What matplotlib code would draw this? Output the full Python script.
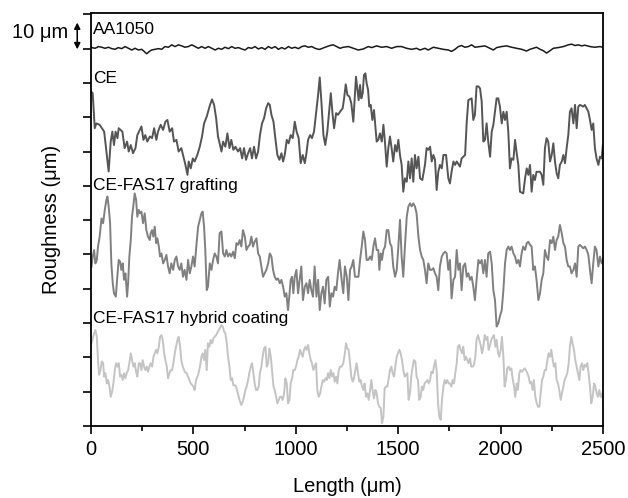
import numpy as np
import matplotlib
matplotlib.use("Agg")
import matplotlib.pyplot as plt

# profile traces (length in um, plotted height in um incl. vertical offset)
aa1050 = [(3, 110.3), (20, 110.1), (36, 110.6), (52, 110.4), (68, 110.1), (85, 110.4),
          (101, 110.0), (117, 109.8), (133, 110.3), (150, 110.0), (166, 110.6), (182, 110.1),
          (199, 109.6), (215, 110.1), (231, 109.6), (247, 109.8), (259, 109.2), (272, 108.5),
          (285, 109.2), (296, 109.6), (313, 109.8), (329, 110.0), (345, 109.8), (361, 110.6),
          (378, 110.4), (394, 111.1), (410, 110.6), (427, 111.1), (443, 110.8), (459, 110.4),
          (475, 110.6), (492, 111.1), (508, 110.6), (524, 110.1), (540, 110.6), (557, 110.1),
          (573, 110.6), (589, 110.1), (606, 109.6), (622, 110.1), (638, 109.8), (654, 110.4),
          (671, 110.0), (687, 110.6), (703, 110.1), (720, 110.3), (736, 109.9), (752, 109.6),
          (768, 110.3), (785, 110.1), (801, 110.6), (817, 109.9), (833, 110.3), (850, 109.8),
          (866, 110.6), (882, 110.1), (899, 110.6), (915, 109.8), (931, 110.3), (947, 109.9),
          (964, 110.6), (980, 110.1), (996, 110.4), (1013, 110.0), (1029, 110.6), (1045, 110.8),
          (1061, 110.4), (1078, 110.6), (1094, 110.1), (1110, 109.8), (1118, 109.8), (1143, 110.4),
          (1167, 110.9), (1183, 111.1), (1200, 110.6), (1216, 110.1), (1232, 110.4), (1257, 110.6),
          (1281, 110.1), (1305, 109.6), (1330, 109.9), (1354, 110.6), (1371, 110.3), (1395, 110.8),
          (1419, 110.4), (1444, 110.6), (1468, 110.1), (1493, 110.6), (1517, 110.6), (1541, 110.1),
          (1566, 109.8), (1590, 110.1), (1607, 109.6), (1631, 110.1), (1647, 109.6), (1672, 110.4),
          (1696, 110.1), (1720, 109.8), (1745, 109.6), (1761, 109.2), (1778, 109.8), (1794, 110.6),
          (1810, 110.9), (1826, 110.4), (1843, 110.6), (1859, 111.1), (1875, 110.4), (1900, 110.6),
          (1924, 110.8), (1948, 110.1), (1965, 109.6), (1981, 110.3), (2005, 110.6), (2030, 110.8),
          (2054, 110.4), (2079, 110.1), (2103, 109.8), (2127, 109.3), (2144, 109.8), (2160, 110.1),
          (2176, 110.4), (2193, 109.8), (2209, 109.4), (2225, 108.7), (2242, 109.4), (2258, 110.1),
          (2282, 110.3), (2307, 110.6), (2331, 111.1), (2347, 111.3), (2364, 110.9), (2380, 111.1),
          (2396, 110.8), (2412, 111.0), (2437, 110.6), (2461, 110.4), (2486, 110.6), (2500, 110.4)]

ce = [(0, 97.5), (8, 97.0), (18, 86.8), (26, 88.2), (42, 87.8), (64, 85.8), (86, 74.2),
      (96, 82.9), (104, 85.8), (112, 81.9), (120, 85.8), (129, 83.9), (135, 86.8), (153, 85.8),
      (164, 81.0), (176, 82.9), (184, 80.0), (194, 81.9), (205, 79.5), (217, 81.0), (226, 84.8),
      (246, 87.3), (256, 83.4), (265, 84.8), (275, 82.9), (287, 84.4), (298, 83.9), (308, 86.8),
      (319, 83.4), (327, 85.8), (340, 87.8), (352, 86.3), (363, 88.7), (373, 89.2), (384, 85.8),
      (396, 86.8), (405, 82.9), (417, 83.4), (428, 80.0), (441, 81.0), (451, 78.5), (461, 76.1),
      (471, 73.2), (477, 77.1), (487, 75.1), (497, 78.0), (506, 77.1), (519, 79.0), (531, 81.4),
      (542, 84.4), (552, 88.2), (565, 90.2), (581, 93.6), (591, 95.2), (601, 93.6), (611, 89.7),
      (620, 84.4), (628, 82.4), (637, 80.0), (645, 82.9), (656, 81.4), (666, 85.3), (676, 81.0),
      (685, 83.4), (695, 80.5), (705, 81.4), (718, 80.0), (728, 81.0), (738, 78.0), (747, 81.0),
      (757, 77.6), (767, 79.5), (777, 81.0), (786, 78.0), (796, 81.4), (806, 78.0), (816, 80.0),
      (825, 84.8), (835, 88.2), (845, 89.7), (855, 92.6), (865, 94.1), (873, 93.6), (881, 90.7),
      (891, 88.7), (900, 83.9), (910, 79.0), (920, 77.6), (930, 79.5), (938, 77.1), (946, 79.0),
      (956, 83.4), (965, 82.4), (975, 84.8), (985, 83.9), (995, 88.7), (1004, 85.8), (1014, 83.9),
      (1024, 76.6), (1034, 79.0), (1044, 76.6), (1052, 79.5), (1060, 83.4), (1070, 84.8),
      (1079, 83.9), (1089, 85.8), (1099, 91.2), (1109, 96.5), (1117, 101.6), (1125, 94.6),
      (1135, 84.8), (1144, 81.9), (1154, 85.8), (1164, 92.6), (1171, 97.0), (1180, 90.7),
      (1187, 86.8), (1197, 91.2), (1206, 90.7), (1216, 91.6), (1229, 92.6), (1236, 95.5),
      (1244, 99.6), (1252, 96.5), (1262, 96.0), (1271, 94.1), (1281, 88.7), (1289, 96.5),
      (1294, 101.8), (1301, 98.0), (1307, 95.0), (1314, 99.4), (1320, 95.5), (1327, 97.0),
      (1333, 102.3), (1340, 102.8), (1346, 99.9), (1353, 98.0), (1359, 93.1), (1366, 93.6),
      (1374, 89.2), (1382, 92.1), (1389, 87.3), (1395, 82.9), (1403, 83.4), (1411, 85.3),
      (1420, 82.9), (1428, 87.8), (1436, 82.4), (1444, 75.6), (1452, 81.0), (1460, 84.4),
      (1468, 81.0), (1476, 77.1), (1485, 81.9), (1493, 80.0), (1501, 83.4), (1509, 79.0),
      (1517, 76.1), (1525, 68.3), (1533, 72.2), (1542, 71.2), (1550, 77.1), (1558, 72.2),
      (1566, 78.0), (1574, 71.2), (1582, 79.0), (1590, 75.1), (1599, 78.5), (1607, 72.2),
      (1618, 71.7), (1631, 76.1), (1639, 81.0), (1647, 80.5), (1656, 81.4), (1664, 77.1),
      (1672, 79.0), (1680, 77.6), (1688, 68.8), (1696, 74.1), (1704, 76.1), (1713, 75.1),
      (1721, 79.0), (1734, 79.0), (1745, 72.2), (1753, 70.7), (1761, 74.1), (1770, 77.1),
      (1778, 76.1), (1786, 77.1), (1802, 75.6), (1810, 78.0), (1827, 79.0), (1835, 88.7),
      (1843, 95.0), (1859, 95.5), (1867, 89.2), (1875, 90.7), (1883, 99.0), (1892, 99.0),
      (1900, 98.4), (1908, 94.6), (1916, 82.9), (1924, 83.4), (1932, 88.2), (1940, 82.9),
      (1949, 78.5), (1957, 85.8), (1965, 87.8), (1973, 91.6), (1981, 95.5), (1989, 95.5),
      (1997, 93.1), (2006, 88.2), (2014, 91.6), (2022, 89.2), (2030, 91.6), (2038, 85.8),
      (2046, 75.1), (2054, 78.0), (2063, 77.6), (2071, 83.4), (2079, 79.5), (2087, 76.1),
      (2095, 68.3), (2111, 67.8), (2120, 72.2), (2128, 75.1), (2136, 73.2), (2144, 76.1),
      (2152, 68.3), (2160, 73.2), (2168, 71.7), (2176, 74.1), (2193, 74.1), (2201, 73.2),
      (2209, 70.3), (2217, 81.0), (2225, 83.9), (2233, 82.9), (2242, 77.1), (2250, 79.0),
      (2258, 82.4), (2266, 77.1), (2274, 73.7), (2282, 72.2), (2290, 76.1), (2299, 77.1),
      (2307, 79.0), (2315, 76.6), (2323, 81.0), (2331, 84.8), (2339, 91.6), (2347, 92.6),
      (2356, 88.2), (2364, 93.6), (2372, 86.8), (2380, 93.1), (2388, 93.6), (2404, 93.1),
      (2412, 93.6), (2429, 91.6), (2437, 89.2), (2445, 86.3), (2453, 88.2), (2461, 81.0),
      (2469, 78.0), (2478, 76.1), (2486, 78.5), (2494, 78.0), (2500, 81.9)]

grafting = [(2, 46.4), (8, 49.4), (15, 51.3), (21, 47.4), (28, 48.4), (34, 52.3), (42, 55.2),
            (51, 60.5), (59, 59.1), (67, 63.0), (75, 65.9), (80, 66.9), (86, 64.0), (93, 59.1),
            (99, 47.4), (106, 41.6), (112, 38.7), (121, 37.7), (127, 42.6), (135, 48.4),
            (142, 47.9), (148, 45.5), (155, 47.4), (161, 42.6), (168, 44.5), (176, 37.7),
            (181, 41.6), (187, 49.4), (194, 54.2), (200, 61.0), (207, 64.4), (213, 67.8),
            (220, 65.9), (226, 61.0), (233, 63.0), (239, 62.0), (246, 62.5), (254, 59.1),
            (262, 62.0), (270, 57.1), (278, 55.2), (287, 54.2), (291, 56.2), (298, 57.1),
            (304, 55.2), (311, 58.1), (318, 53.3), (324, 54.7), (331, 52.3), (337, 49.4),
            (344, 50.3), (352, 47.4), (360, 48.4), (368, 49.9), (376, 46.5), (384, 44.5),
            (392, 47.4), (401, 45.5), (409, 48.4), (417, 49.4), (425, 46.5), (433, 45.5),
            (441, 47.4), (449, 43.5), (457, 45.5), (466, 42.6), (474, 48.4), (482, 44.5),
            (490, 46.5), (498, 49.4), (506, 46.5), (514, 52.3), (523, 58.1), (531, 60.1),
            (539, 62.0), (545, 62.5), (552, 58.1), (558, 51.3), (565, 39.6), (571, 40.6),
            (580, 47.4), (588, 45.5), (596, 48.4), (604, 50.3), (612, 49.4), (620, 47.4),
            (628, 56.2), (637, 56.7), (645, 50.3), (653, 49.4), (661, 51.3), (669, 49.4),
            (677, 50.3), (685, 49.4), (694, 50.8), (702, 48.9), (710, 53.3), (718, 52.8),
            (726, 54.2), (734, 52.3), (742, 57.1), (751, 55.2), (759, 51.3), (767, 52.3),
            (775, 52.8), (783, 55.2), (791, 52.3), (799, 53.7), (808, 54.7), (816, 50.3),
            (824, 49.4), (832, 46.5), (840, 43.5), (848, 44.5), (856, 45.5), (865, 47.4),
            (873, 50.3), (881, 49.4), (889, 45.5), (897, 43.5), (905, 42.6), (913, 43.0),
            (922, 41.6), (930, 42.6), (938, 40.6), (946, 37.7), (954, 38.7), (962, 33.8),
            (969, 38.2), (975, 42.6), (982, 43.5), (988, 38.7), (995, 43.5), (1003, 45.5),
            (1011, 38.7), (1019, 42.6), (1027, 46.5), (1035, 36.7), (1044, 40.6), (1052, 41.6),
            (1060, 38.7), (1068, 42.6), (1076, 39.6), (1084, 37.7), (1092, 46.5), (1101, 37.7),
            (1109, 42.6), (1117, 33.8), (1125, 38.7), (1133, 40.6), (1141, 35.7), (1149, 42.6),
            (1158, 43.5), (1166, 34.8), (1174, 38.7), (1182, 37.7), (1190, 40.6), (1198, 39.6),
            (1206, 44.5), (1214, 48.4), (1224, 42.6), (1232, 38.7), (1240, 46.5), (1249, 43.5),
            (1257, 36.7), (1265, 45.5), (1273, 46.5), (1281, 48.4), (1289, 43.5), (1297, 43.5),
            (1306, 43.5), (1314, 48.4), (1322, 52.3), (1330, 56.7), (1338, 54.2), (1346, 48.4),
            (1354, 48.4), (1363, 49.4), (1371, 48.4), (1379, 52.3), (1387, 54.7), (1395, 51.3),
            (1403, 51.3), (1408, 45.5), (1415, 50.3), (1421, 48.4), (1428, 51.3), (1436, 52.3),
            (1444, 57.1), (1452, 57.1), (1460, 53.3), (1468, 52.3), (1476, 46.5), (1485, 43.5),
            (1493, 45.5), (1501, 52.3), (1509, 60.1), (1517, 49.4), (1525, 43.5), (1533, 52.3),
            (1542, 61.0), (1550, 64.0), (1558, 64.9), (1566, 64.0), (1574, 64.9), (1582, 64.0),
            (1590, 62.0), (1599, 55.2), (1607, 51.3), (1615, 49.4), (1623, 48.4), (1631, 45.5),
            (1639, 41.6), (1647, 47.4), (1656, 45.5), (1664, 45.5), (1672, 46.0), (1680, 44.5),
            (1688, 43.5), (1696, 39.6), (1704, 46.5), (1713, 49.4), (1721, 50.3), (1729, 50.8),
            (1737, 50.3), (1745, 45.5), (1753, 48.4), (1761, 37.2), (1770, 42.6), (1778, 43.5),
            (1786, 51.3), (1794, 45.5), (1802, 47.4), (1810, 39.6), (1818, 46.5), (1827, 47.4),
            (1835, 43.5), (1843, 44.5), (1851, 42.6), (1859, 43.5), (1867, 40.6), (1875, 36.7),
            (1883, 42.6), (1892, 48.4), (1900, 47.4), (1908, 48.4), (1916, 44.5), (1924, 48.4),
            (1932, 43.5), (1940, 50.3), (1949, 50.8), (1957, 47.4), (1965, 39.6), (1973, 36.7),
            (1981, 29.0), (1989, 29.9), (1997, 31.9), (2006, 33.8), (2014, 39.6), (2022, 47.4),
            (2030, 51.3), (2038, 52.3), (2046, 51.3), (2054, 52.3), (2063, 50.3), (2071, 49.4),
            (2079, 47.4), (2087, 48.4), (2095, 46.5), (2103, 50.3), (2111, 52.3), (2120, 51.3),
            (2128, 53.3), (2136, 53.7), (2144, 52.8), (2152, 52.3), (2160, 45.5), (2168, 46.5),
            (2176, 42.6), (2185, 36.7), (2193, 38.7), (2201, 42.6), (2209, 44.5), (2217, 51.3),
            (2225, 49.4), (2233, 48.4), (2242, 54.2), (2250, 53.3), (2258, 55.2), (2266, 51.3),
            (2274, 54.2), (2282, 55.2), (2290, 58.6), (2299, 56.2), (2307, 53.3), (2315, 52.3),
            (2323, 48.4), (2331, 46.5), (2339, 46.5), (2347, 44.5), (2356, 45.5), (2364, 47.4),
            (2372, 43.5), (2380, 52.3), (2388, 52.8), (2396, 52.3), (2404, 51.8), (2412, 52.3),
            (2421, 51.3), (2429, 49.9), (2437, 45.5), (2445, 41.6), (2453, 47.4), (2461, 52.3),
            (2469, 51.3), (2478, 46.5), (2486, 49.4), (2494, 47.4), (2500, 48.4)]

hybrid = [(2, 24.1), (15, 27.0), (21, 28.0), (28, 26.0), (34, 19.2), (39, 14.9), (46, 16.3),
          (52, 18.8), (59, 18.3), (64, 14.4), (70, 15.4), (77, 12.4), (83, 13.4), (90, 11.5),
          (96, 8.5), (103, 10.0), (109, 12.4), (116, 16.3), (122, 18.3), (129, 17.3), (135, 18.3),
          (142, 14.4), (148, 14.9), (155, 13.4), (161, 15.4), (168, 13.9), (174, 15.4),
          (181, 16.3), (187, 18.3), (194, 21.2), (200, 19.2), (207, 17.3), (213, 18.3),
          (220, 15.8), (226, 14.4), (233, 18.3), (239, 18.3), (246, 16.3), (252, 19.2),
          (259, 17.3), (265, 16.3), (272, 17.3), (278, 15.8), (285, 17.3), (291, 18.3),
          (298, 17.3), (305, 20.2), (311, 21.2), (318, 22.2), (324, 21.2), (331, 23.1),
          (337, 26.0), (344, 26.5), (350, 25.1), (357, 21.2), (363, 19.2), (370, 17.3),
          (376, 13.9), (383, 15.4), (389, 16.3), (396, 16.3), (402, 18.3), (409, 21.2),
          (415, 23.1), (422, 25.1), (428, 26.0), (435, 23.1), (441, 19.2), (448, 17.3),
          (458, 15.8), (467, 15.4), (477, 13.9), (487, 12.4), (500, 11.5), (506, 10.5),
          (513, 13.4), (523, 14.9), (532, 17.3), (539, 20.2), (545, 21.2), (552, 19.2),
          (558, 22.2), (565, 16.3), (571, 24.1), (578, 23.1), (584, 25.1), (591, 24.1),
          (598, 25.6), (611, 26.5), (624, 28.0), (637, 29.4), (643, 29.0), (650, 27.5),
          (656, 27.0), (663, 24.1), (669, 20.2), (676, 17.3), (682, 13.4), (689, 13.9),
          (695, 11.9), (702, 11.9), (708, 11.5), (715, 10.0), (721, 8.5), (728, 7.1), (734, 6.1),
          (741, 7.1), (747, 8.5), (754, 10.5), (760, 11.5), (767, 13.4), (773, 15.4), (780, 17.3),
          (786, 18.3), (793, 15.4), (799, 12.4), (806, 10.5), (812, 10.5), (819, 11.5),
          (825, 15.4), (832, 17.3), (838, 20.2), (845, 22.6), (852, 23.1), (858, 17.3),
          (865, 18.3), (871, 22.6), (878, 20.2), (884, 16.3), (891, 11.5), (897, 10.5),
          (904, 8.5), (910, 6.6), (917, 7.6), (923, 8.5), (930, 8.5), (936, 7.6), (943, 9.5),
          (949, 13.9), (956, 12.4), (962, 6.6), (969, 7.6), (975, 12.4), (982, 13.9), (988, 16.3),
          (995, 16.3), (1001, 17.3), (1008, 19.2), (1014, 20.2), (1021, 22.2), (1027, 21.2),
          (1034, 20.2), (1040, 22.2), (1047, 23.1), (1053, 22.2), (1060, 23.6), (1066, 21.2),
          (1073, 19.2), (1079, 18.3), (1086, 16.3), (1092, 17.3), (1099, 18.3), (1105, 10.5),
          (1112, 8.5), (1119, 9.5), (1125, 11.5), (1132, 13.4), (1138, 12.9), (1145, 13.9),
          (1151, 13.4), (1158, 15.4), (1164, 13.9), (1171, 16.3), (1177, 14.4), (1184, 15.4),
          (1190, 12.9), (1197, 14.4), (1203, 12.4), (1210, 16.3), (1216, 17.3), (1224, 17.3),
          (1232, 18.3), (1240, 21.2), (1245, 24.1), (1252, 22.6), (1258, 22.2), (1265, 18.3),
          (1271, 14.4), (1278, 12.9), (1284, 13.9), (1291, 16.3), (1297, 18.3), (1304, 15.4),
          (1310, 12.9), (1317, 13.4), (1323, 11.5), (1330, 10.5), (1336, 12.4), (1343, 8.5),
          (1350, 9.5), (1356, 7.6), (1363, 10.5), (1369, 13.4), (1376, 10.0), (1382, 8.1),
          (1389, 10.5), (1395, 9.5), (1402, 6.6), (1408, 5.6), (1415, 5.2), (1421, 0.8),
          (1428, 2.7), (1434, 11.0), (1441, 11.5), (1447, 11.5), (1454, 13.9), (1460, 16.3),
          (1467, 17.3), (1473, 15.4), (1480, 14.4), (1486, 17.3), (1493, 20.2), (1499, 21.2),
          (1506, 22.2), (1512, 21.2), (1519, 19.2), (1525, 16.3), (1532, 14.4), (1538, 14.9),
          (1545, 15.4), (1551, 7.6), (1558, 9.5), (1564, 14.4), (1571, 17.3), (1577, 19.2),
          (1584, 18.8), (1590, 14.4), (1597, 13.4), (1603, 7.6), (1610, 8.5), (1616, 11.5),
          (1623, 10.5), (1629, 12.4), (1636, 12.9), (1643, 13.4), (1649, 12.4), (1656, 13.4),
          (1662, 15.8), (1669, 15.4), (1675, 17.3), (1682, 19.2), (1688, 16.3), (1695, 6.6),
          (1701, 2.7), (1708, 1.8), (1714, 7.6), (1721, 11.5), (1727, 13.4), (1734, 12.4),
          (1740, 13.4), (1747, 12.4), (1753, 12.4), (1760, 11.5), (1766, 13.4), (1773, 12.4),
          (1779, 15.4), (1786, 18.3), (1792, 23.1), (1799, 23.6), (1805, 22.2), (1812, 21.2),
          (1818, 23.1), (1825, 19.2), (1831, 20.2), (1838, 19.2), (1844, 18.3), (1851, 19.7),
          (1857, 17.3), (1864, 17.3), (1870, 17.8), (1877, 20.2), (1883, 25.1), (1890, 26.5),
          (1896, 25.1), (1903, 23.6), (1910, 21.2), (1916, 23.1), (1923, 26.5), (1929, 25.1),
          (1936, 26.0), (1942, 22.2), (1949, 23.6), (1955, 25.1), (1962, 26.0), (1968, 26.5),
          (1975, 23.1), (1981, 25.1), (1988, 21.2), (1994, 20.2), (2001, 22.2), (2007, 26.0),
          (2014, 20.2), (2020, 11.5), (2027, 13.4), (2033, 16.8), (2040, 17.3), (2046, 16.3),
          (2053, 16.8), (2059, 13.9), (2066, 11.5), (2072, 8.5), (2079, 12.4), (2085, 10.5),
          (2092, 15.4), (2098, 16.3), (2105, 15.8), (2111, 16.3), (2118, 16.8), (2124, 16.3),
          (2131, 15.4), (2137, 14.4), (2144, 12.4), (2150, 12.9), (2157, 10.5), (2163, 13.4),
          (2170, 8.5), (2177, 6.6), (2183, 5.6), (2190, 5.6), (2196, 9.5), (2203, 13.4),
          (2209, 14.4), (2216, 16.3), (2222, 16.3), (2229, 19.2), (2235, 21.2), (2242, 20.2),
          (2248, 22.2), (2255, 19.2), (2261, 17.3), (2268, 18.3), (2274, 13.4), (2281, 12.4),
          (2287, 10.5), (2294, 7.6), (2300, 9.5), (2307, 11.5), (2313, 13.4), (2320, 14.4),
          (2326, 15.4), (2333, 18.3), (2339, 23.1), (2346, 26.0), (2352, 24.1), (2359, 22.2),
          (2365, 19.2), (2372, 17.3), (2378, 15.4), (2385, 13.4), (2391, 17.3), (2398, 18.3),
          (2404, 16.3), (2411, 17.8), (2418, 17.3), (2424, 18.3), (2430, 15.4), (2437, 11.5),
          (2443, 6.6), (2450, 8.5), (2457, 12.4), (2463, 11.5), (2470, 9.5), (2476, 8.5),
          (2483, 10.5), (2489, 8.5), (2496, 9.5), (2500, 7.6)]

names = ["AA1050", "CE", "CE-FAS17 grafting", "CE-FAS17 hybrid coating"]
label_y = [115.5, 101.3, 70.2, 31.4]
colors = ["#1a1a1a", "#555555", "#808080", "#c4c4c4"]
traces = [aa1050, ce, grafting, hybrid]

plt.rcParams['font.family'] = ['Liberation Sans', 'DejaVu Sans']

fig = plt.figure(figsize=(6.28, 4.98), dpi=100)
ax = fig.add_axes([0.145, 0.1446, 0.815, 0.8294])

for tr, c, lw in zip(traces, colors, [1.1, 1.4, 1.4, 1.4]):
    xy = np.array(tr)
    ax.plot(xy[:, 0], xy[:, 1], color=c, lw=lw)

for name, y in zip(names, label_y):
    ax.text(8, y, name, fontsize=12.5, va='center', ha='left')

ax.set_xlim(0, 2500)
ax.set_ylim(0, 120.4)
ax.set_xticks(np.arange(0, 2501, 500))
ax.set_xticks(np.arange(250, 2500, 500), minor=True)
ax.set_yticks(np.arange(0, 121, 10))
ax.set_yticklabels([])
ax.tick_params(axis='both', which='major', direction='out', length=6, width=1.2, labelsize=14.5)
ax.tick_params(axis='x', which='minor', direction='out', length=3.5, width=1.2)
ax.tick_params(axis='x', pad=4)
for s in ax.spines.values():
    s.set_linewidth(1.3)

ax.set_xlabel("Length (μm)", fontsize=14.5, labelpad=13)
ax.set_ylabel("Roughness (μm)", fontsize=14.5, labelpad=12)

# 10 um scale bar left of the axes
trans = ax.get_yaxis_transform()
ax.annotate("", xy=(-0.027, 117.6), xytext=(-0.027, 109.8), xycoords=trans,
            textcoords=trans, annotation_clip=False,
            arrowprops=dict(arrowstyle="<|-|>", color="black", lw=1.1,
                            mutation_scale=9, shrinkA=0, shrinkB=0))
ax.text(-0.045, 114.8, "10 μm", transform=trans, fontsize=14.5, ha='right', va='center')

fig.savefig("out.png", dpi=100)
